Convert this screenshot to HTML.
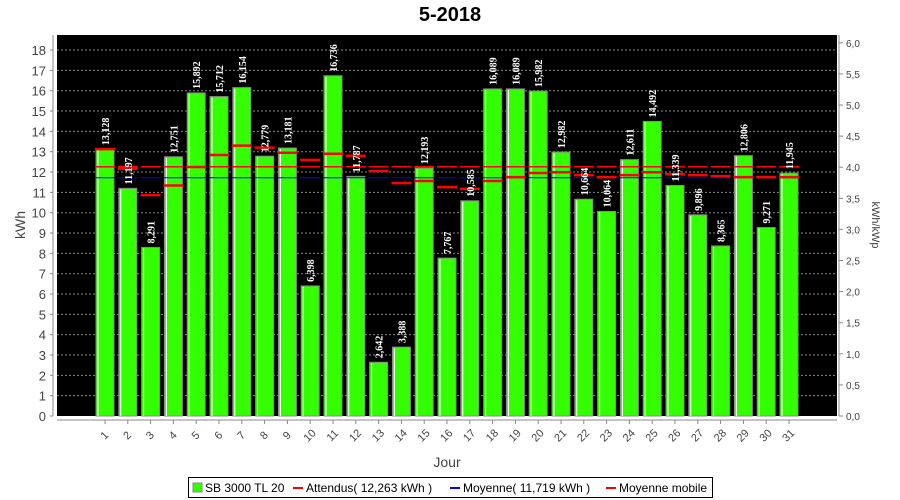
<!DOCTYPE html><html><head><meta charset="utf-8"><style>body{margin:0;background:#fff}svg{display:block}</style></head><body>
<svg id="s" width="900" height="500" xmlns="http://www.w3.org/2000/svg" font-family="Liberation Sans, sans-serif"></svg>
<script>
const v=[13.128,11.197,8.291,12.751,15.892,15.712,16.154,12.779,13.181,6.398,16.736,11.787,2.642,3.388,12.193,7.767,10.585,16.089,16.089,15.982,12.982,10.664,10.064,12.611,14.492,11.339,9.896,8.365,12.806,9.271,11.945];
const mm=[13.128,12.16,10.87,11.34,12.25,12.84,13.3,13.2,12.95,12.6,12.9,12.8,12.05,11.46,11.56,11.26,11.17,11.56,11.75,11.95,11.99,11.85,11.75,11.85,11.99,11.9,11.85,11.8,11.75,11.75,11.75];
const Y=x=>416-x*20.33;let h='';
h+='<text x="450" y="21" text-anchor="middle" font-size="20" font-weight="bold">5-2018</text>';
h+='<rect x="57" y="35" width="780" height="381" fill="#000"/>';
for(let i=1;i<=18;i++){let y=Y(i);h+=`<line x1="57" x2="837" y1="${y}" y2="${y}" stroke="#888" stroke-dasharray="2,2"/>`;}
for(let i=0;i<=18;i++){let y=Y(i);h+=`<line x1="50" x2="53" y1="${y}" y2="${y}" stroke="#888"/><text x="46" y="${y+5}" text-anchor="end" font-size="13" fill="#444">${i}</text>`;}
h+='<line x1="53" x2="53" y1="35" y2="416" stroke="#888"/><line x1="57" x2="837" y1="420" y2="420" stroke="#888"/><line x1="839" x2="839" y1="35" y2="416" stroke="#888"/>';
for(let i=0;i<=12;i++){let y=416-i*31.1;h+=`<line x1="839" x2="843" y1="${y}" y2="${y}" stroke="#888"/><text x="846" y="${y+4}" font-size="10" fill="#444">${(i/2).toFixed(1).replace('.',',')}</text>`;}
h+='<text transform="translate(25,225) rotate(-90)" text-anchor="middle" font-size="14" fill="#444">kWh</text>';
h+='<text transform="translate(872,225) rotate(90)" text-anchor="middle" font-size="11" fill="#444">kWh/kWp</text>';
h+='<text x="447" y="467" text-anchor="middle" font-size="14" fill="#444">Jour</text>';
v.forEach((x,i)=>{let c=105+i*22.8,y=Y(x);
h+=`<rect x="${c-9}" y="${y}" width="18" height="${416-y}" fill="#33ff00" stroke="#888" stroke-width="1"/><line x1="${c-7}" x2="${c-7}" y1="${y+1}" y2="416" stroke="#fff" stroke-width="1"/>`;
let a=Y(12.263);h+=`<line x1="${c-10}" x2="${c+10}" y1="${a}" y2="${a}" stroke="#f00" stroke-width="1.5"/>`;
let b=Y(11.719);h+=`<line x1="${c-10}" x2="${c+10}" y1="${b}" y2="${b}" stroke="#00f" stroke-width="1"/>`;
let m=Y(mm[i]);h+=`<line x1="${c-10}" x2="${c+10}" y1="${m}" y2="${m}" stroke="#f00" stroke-width="2.5"/>`;
h+=`<text transform="translate(${c+4},${y-4}) rotate(-90)" font-family="Liberation Serif,serif" font-weight="bold" font-size="10" fill="#fff">${x.toFixed(3).replace('.',',')}</text>`;
h+=`<line x1="${c}" x2="${c}" y1="420" y2="424" stroke="#888"/><text transform="translate(${c+2},438) rotate(-45)" text-anchor="middle" font-size="11" fill="#444">${i+1}</text>`;});
h+='<rect x="188.5" y="477.5" width="524" height="20" fill="#fff" stroke="#000"/>';
h+='<rect x="193" y="483" width="9" height="9" fill="#33ff00" stroke="#888"/><text x="205" y="492" font-size="12">SB 3000 TL 20</text>';
h+='<line x1="293" x2="303" y1="488" y2="488" stroke="#f00" stroke-width="2"/><text x="306" y="492" font-size="12">Attendus( 12,263 kWh )</text>';
h+='<line x1="450" x2="460" y1="488" y2="488" stroke="#00f" stroke-width="2"/><text x="463" y="492" font-size="12">Moyenne( 11,719 kWh )</text>';
h+='<line x1="606" x2="616" y1="488" y2="488" stroke="#f00" stroke-width="2"/><text x="619" y="492" font-size="12">Moyenne mobile</text>';
document.getElementById('s').innerHTML=h;
</script></body></html>
